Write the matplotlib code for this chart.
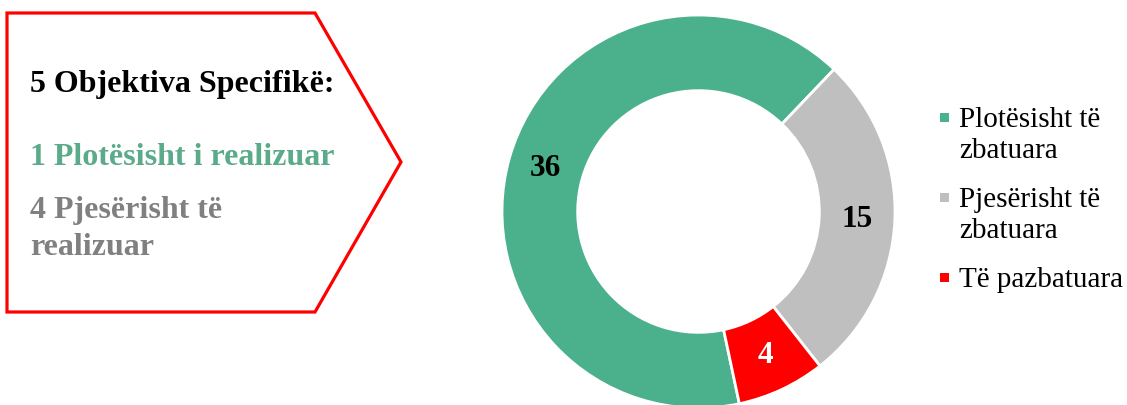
import numpy as np
import matplotlib.pyplot as plt
from matplotlib.patches import Polygon, Rectangle

plt.rcParams['font.family'] = 'serif'
plt.rcParams['font.serif'] = ['Liberation Serif', 'DejaVu Serif']

# data
categories = ['Plotësisht të\nzbatuara', 'Pjesërisht të\nzbatuara', 'Të pazbatuara']
values = [36, 15, 4]
colors = ['#4BB18D', '#BFBFBF', '#FF0000']
label_colors = ['black', 'black', 'white']

box_title = '5 Objektiva Specifikë:'
box_lines = ['1 Plotësisht i realizuar', '4 Pjesërisht të\nrealizuar']
box_colors = ['#5BAA8A', '#808080']

W, H = 1127, 405
fig = plt.figure(figsize=(W / 100, H / 100), dpi=100)

# overlay axes in pixel coordinates (y nach unten)
bg = fig.add_axes([0, 0, 1, 1])
bg.set_xlim(0, W)
bg.set_ylim(H, 0)
bg.axis('off')


def put_lines(x, y0, text, step, **kw):
    # jede Zeile einzeln, Baseline bei y
    for i, line in enumerate(text.split('\n')):
        bg.text(x, y0 + i * step, line, va='baseline', **kw)


pent = Polygon([(7, 13), (315, 13), (401, 162), (315, 312), (7, 312)],
               closed=True, fill=False, edgecolor='#FF0000', linewidth=2.3)
bg.add_patch(pent)
put_lines(30, 92, box_title, 0, fontsize=23, fontweight='bold', color='black')
put_lines(30, 165, box_lines[0], 0, fontsize=23, fontweight='bold', color=box_colors[0])
put_lines(30, 218, box_lines[1], 37, fontsize=23, fontweight='bold', color=box_colors[1])

# donut
cx, cy, r = 698.5, 211.5, 196.5
ax = fig.add_axes([(cx - r) / W, (H - cy - r) / H, 2 * r / W, 2 * r / H])
width = 0.385
start = 282
ax.pie(values, colors=colors, startangle=start, counterclock=False, radius=1,
       wedgeprops=dict(width=width, edgecolor='white', linewidth=2))
total = sum(values)
for v, c in zip(values, label_colors):
    mid = np.deg2rad(start - v / total * 360 / 2)
    rr = 1 - width / 2
    ax.text(rr * np.cos(mid), rr * np.sin(mid), str(v), ha='center', va='center',
            fontsize=22.5, fontweight='bold', color=c)
    start -= v / total * 360
ax.set_xlim(-1, 1)
ax.set_ylim(-1, 1)

# legend
leg_y = [117, 197, 277]
for y, lab, col in zip(leg_y, categories, colors):
    bg.add_patch(Rectangle((940, y - 4.5), 9, 9, facecolor=col, edgecolor='none'))
    put_lines(959, y + 10, lab, 31, fontsize=21, color='black')

fig.savefig('out.png', dpi=100, facecolor='white')
